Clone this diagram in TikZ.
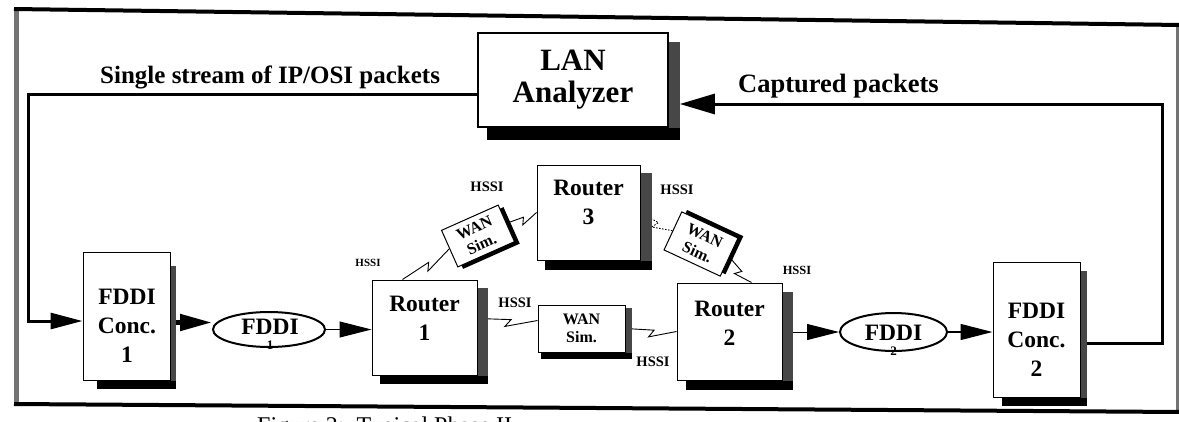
\documentclass[tikz,border=0pt]{standalone}
\usepackage{fontspec}
\setmainfont{Liberation Serif}
\usetikzlibrary{arrows.meta,calc,shapes.geometric}
\pgfdeclarelayer{bg}
\pgfsetlayers{bg,main}
\newcommand\boxshadow[4]{%
  \fill[shadeR] ([yshift=-#4pt]#1.north east) rectangle ([xshift=#2pt,yshift=-#3pt]#1.south east);
  \fill[black] ([xshift=#4pt]#1.south west) rectangle ([xshift=#2pt,yshift=-#3pt]#1.south east);}
\tikzset{
  boxn/.style={draw, line width=1pt, fill=white, inner sep=0pt},
  ell/.style={draw, ellipse, line width=2pt, fill=white, inner sep=0pt},
  shadeR/.style={fill=black!72},
  lant/.style={align=center, font=\fontsize{31}{32}\selectfont\bfseries},
  bigt/.style={align=center, font=\fontsize{23.5}{29}\selectfont\bfseries, inner sep=0pt},
  subt/.style={font=\fontsize{13}{13}\selectfont\bfseries, inner sep=0pt},
  want/.style={align=center, font=\fontsize{16}{18}\selectfont\bfseries},
  hssi/.style={font=\fontsize{14.5}{15}\selectfont\bfseries, inner sep=0pt},
  flowlbl/.style={font=\fontsize{25}{25}\selectfont\bfseries, inner sep=0pt, anchor=base west},
  arrowed/.style={-{Triangle[length=32pt,width=16pt]}},
  bigarrowed/.style={-{Triangle[length=35pt,width=20pt]}},
  zigl/.style={line width=0.9pt, to path={-- ($(\tikztostart)!0.56!(\tikztotarget)$) -- ($(\tikztostart)!0.46!(\tikztotarget)!7pt!-90:(\tikztotarget)$) -- (\tikztotarget)}},
}
\begin{document}
\begin{tikzpicture}[x=1pt,y=-1pt]
\useasboundingbox (0,0) rectangle (1179,421);
% outer frame
\draw[line width=5pt, black!55] (16,9) -- (16,404);
\draw[line width=4pt, black!55] (1178,25) -- (1178,412);
\draw[line width=4pt] (14,9) -- (1180,25);
\draw[line width=4pt] (14,404) -- (1180,412);

% LAN analyzer
\node[boxn, line width=1.6pt, lant, minimum width=190pt, minimum height=94pt] (lan) at (573,80) {LAN\\Analyzer};
\boxshadow{lan}{11}{12}{10}

% FDDI concentrator 1
\node[boxn, minimum width=87pt, minimum height=128pt] (c1) at (126.5,316) {};
\boxshadow{c1}{5}{8}{14}
\node[bigt] (c1t) at (127,326) {FDDI\\Conc.\\1};

% FDDI ring 1
\node[ell, minimum width=112pt, minimum height=35pt] (f1) at (269,329.5) {};
\node[bigt] (f1t) at (270,327) {FDDI};
\node[subt] (f1n) at (270,345) {1};

% Router 1
\node[boxn, minimum width=105pt, minimum height=95pt] (r1) at (424.5,327.5) {};
\boxshadow{r1}{10}{8}{8}
\node[bigt] (r1t) at (424.5,318.5) {Router\\1};

% Router 3
\node[boxn, minimum width=103pt, minimum height=95pt] (r3) at (588.5,212.5) {};
\boxshadow{r3}{11}{9}{8}
\node[bigt] (r3t) at (588.5,202.5) {Router\\3};

% Router 2
\node[boxn, minimum width=105pt, minimum height=97pt] (r2) at (729.5,331.5) {};
\boxshadow{r2}{10}{9}{9}
\node[bigt] (r2t) at (729.5,323.5) {Router\\2};

% WAN simulators
\node[boxn, want, minimum width=87pt, minimum height=47pt] (wan3) at (581.5,328.5) {WAN\\Sim.};
\boxshadow{wan3}{6}{6}{3}
\node[fill=black, rotate=24, minimum width=62pt, minimum height=40pt, inner sep=0pt] (wanULs) at (483.3,238) {};
\node[boxn, want, rotate=24, minimum width=62pt, minimum height=40pt] (wanUL) at (478,236) {WAN\\Sim.};
\node[fill=black, rotate=-25, minimum width=62pt, minimum height=42pt, inner sep=0pt] (wanURs) at (706.3,242.1) {};
\node[boxn, want, rotate=-25, minimum width=62pt, minimum height=42pt] (wanUR) at (701,244) {WAN\\Sim.};

% FDDI concentrator 2
\node[boxn, minimum width=87pt, minimum height=135pt] (c2) at (1036.5,329.5) {};
\boxshadow{c2}{6}{8}{9}
\node[bigt] (c2t) at (1036.5,340) {FDDI\\Conc.\\2};

% FDDI ring 2
\node[ell, minimum width=107pt, minimum height=38pt] (f2) at (893.5,332) {};
\node[bigt] (f2t) at (893.5,333) {FDDI};
\node[subt] (f2n) at (893.5,351) {2};

% labels
\node[flowlbl] (lblL) at (100,83) {Single stream of IP/OSI packets};
\node[flowlbl, font=\fontsize{26.5}{26.5}\selectfont\bfseries] (lblR) at (738,92) {Captured packets};
\node[hssi] (h1) at (487,187) {HSSI};
\node[hssi] (h2) at (677,190) {HSSI};
\node[hssi, font=\fontsize{11}{11}\selectfont\bfseries] (h3) at (368,263) {HSSI};
\node[hssi] (h4) at (515,303) {HSSI};
\node[hssi] (h5) at (653,362) {HSSI};
\node[hssi, font=\fontsize{12.5}{13}\selectfont\bfseries] (h6) at (797,270) {HSSI};

% connectors
\coordinate (tl) at (28,94);
\coordinate (bl) at (28,321);
\coordinate (tr) at (1162,104);
\coordinate (br) at (1162,343);
\coordinate (f1in) at ([yshift=7pt]f1.west);
\coordinate (r1o) at ([yshift=9pt]r1.east);
\coordinate (w3i) at ([yshift=8pt]wan3.west);
\coordinate (r1u) at ([xshift=-22pt]r1.north);
\coordinate (r2u) at ([xshift=22pt]r2.north);
\begin{pgfonlayer}{bg}
\draw[line width=3pt, arrowed] (lan.west |- tl) -- (tl) -- (bl) -- (c1.west |- bl);
\draw[line width=3pt, bigarrowed, shorten >=11pt] (c2.east |- br) -- (br) -- (tr) -- (lan.east |- tr);
\draw[line width=5pt, arrowed] (c1.east |- f1in) -- (f1in);
\draw[line width=1pt, arrowed] (f1.east) -- (r1.west |- f1.east);
\draw[line width=1pt, arrowed] (r2.east |- f2.west) -- (f2.west);
\draw[line width=1.3pt, arrowed] (f2.east) -- (c2.west |- f2.east);
\draw[zigl] (r1o) to (w3i);
\draw[zigl] (wan3.east) to (r2.west);
\draw[zigl] (r1u) to (wanUL.west);
\draw[zigl] (wanUL.east) to (r3.west);
\draw[zigl, dash pattern=on 1.5pt off 1.5pt] (r3.east) to (wanUR.west);
\draw[zigl] (wanUR.east) to (r2u);
\end{pgfonlayer}

% caption (cut off at the bottom edge)
\begin{scope}
\clip (0,0) rectangle (1179,421);
\node[anchor=base west, font=\fontsize{24}{24}\selectfont, inner sep=0pt] (cap) at (257,433) {Figure 2:\enspace Typical Phase II};
\end{scope}
\end{tikzpicture}
\end{document}
